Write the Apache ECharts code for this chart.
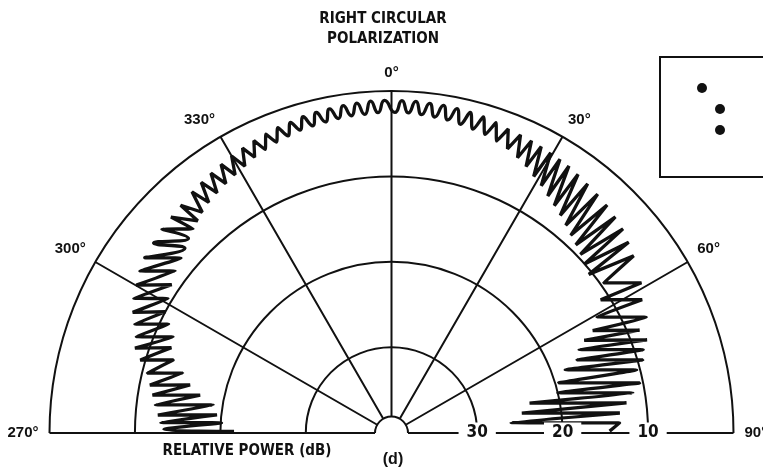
<!DOCTYPE html>
<html><head><meta charset="utf-8">
<script src="https://cdn.jsdelivr.net/npm/echarts@6/dist/echarts.min.js"></script>
<style>html,body{margin:0;padding:0;background:#fff}#c{width:763px;height:469px}</style>
</head><body><div id="c"></div>
<script>
// Angle tick labels (compass degrees) and relative-power ring labels (dB)
const angleTicks = [270, 300, 330, 0, 30, 60, 90];
const powerTicks = [30, 20, 10];
const powerMax = 38.1; // dB at the small centre semicircle

// Measured pattern, left half (270° -> 360°): alternating null / peak
const leftAngles = [270.6,270.9,273.4,272.6,275.9,274.4,278.9,276.8,281.2,279.0,283.4,281.2,286.0,283.8,288.5,286.2,
  291.2,288.3,293.7,290.7,296.0,293.0,298.2,295.0,301.0,297.6,304.0,300.1,306.8,302.8,309.7,305.4,
  311.8,308.6,313.8,311.6,315.8,314.4,317.6,317.2,319.4,320.4,321.6,322.8,324.0,325.2,326.4,327.6,
  328.8,330.0,331.2,332.4,333.6,334.8,336.0,337.2,338.4,339.6,340.8,342.0,343.2,344.4,345.6,346.8,
  348.0,349.2,350.4,351.6,352.8,354.0,355.2,356.4,357.6,358.8];
const leftDb = [21.6,13.4,20.1,13.0,19.5,12.6,18.9,12.2,17.2,11.7,15.8,11.2,14.6,10.6,13.1,9.4,
  12.4,8.4,12.1,8.1,11.0,7.4,10.0,6.6,9.5,6.0,9.0,5.5,8.4,5.0,8.0,4.6,
  7.6,4.4,7.1,4.1,6.7,3.9,6.4,3.7,6.0,3.4,5.6,3.2,5.3,3.0,5.0,2.8,
  4.7,2.6,4.4,2.4,4.0,2.2,3.7,2.1,3.4,1.9,3.2,1.8,3.0,1.6,2.9,1.5,
  2.8,1.4,2.7,1.3,2.6,1.2,2.6,1.1,2.5,1.1];

// Measured pattern, right half (0° -> 90°): alternating null / peak
const rightAngles = [0.6,1.8,3.0,4.2,5.4,6.6,7.8,9.0,10.2,11.4,12.6,13.8,15.0,16.2,17.4,18.6,19.8,21.0,
  22.2,23.4,24.6,25.6,26.8,27.6,29.0,29.6,31.2,31.6,33.4,33.6,35.6,35.8,37.8,38.2,40.0,40.8,
  42.2,43.4,44.4,46.0,46.6,48.6,48.8,51.2,51.2,53.8,
  54.7,59.0,57.5,62.0,60.5,65.6,63.0,67.5,64.3,70.0,66.0,71.7,68.5,73.8,70.0,75.6,
  73.3,78.6,76.4,80.6,77.8,82.7,81.3,85.0,85.0,87.5,89.5];
const rightDb = [2.5,1.1,2.5,1.1,2.6,1.2,2.7,1.2,2.8,1.3,3.0,1.4,3.2,1.5,3.4,1.7,3.7,1.9,
  4.1,2.0,4.6,2.1,5.1,2.2,5.7,2.3,6.2,2.4,6.8,2.5,7.3,2.7,7.8,2.9,8.3,3.1,
  8.8,3.3,9.2,3.6,9.6,3.9,10.0,4.4,10.4,4.9,
  9.6,5.9,11.0,6.8,12.4,7.3,13.6,8.6,15.0,8.2,16.0,9.0,16.7,9.4,18.4,10.4,
  19.6,10.4,20.0,11.4,23.5,12.3,24.6,13.2,26.0,13.3,14.5];

const FONT = "'Liberation Sans Narrow','DejaVu Sans Condensed',sans-serif";
const FONT2 = "'Liberation Sans','DejaVu Sans',sans-serif";
const toAxis = a => (a > 180 ? a - 360 : a);

const pattern = [];
leftAngles.forEach((a, i) => pattern.push([leftDb[i], toAxis(a)]));
rightAngles.forEach((a, i) => pattern.push([rightDb[i], toAxis(a)]));

const chart = echarts.init(document.getElementById('c'), null, {renderer: 'canvas'});
chart.setOption({
  backgroundColor: '#fff',
  animation: false,
  polar: {center: [391.5, 433], radius: [16.5, 342]},
  angleAxis: {
    type: 'value', min: -90, max: 90, interval: 30,
    startAngle: 180, endAngle: 0, clockwise: true,
    axisLine: {show: false},
    axisTick: {show: false},
    splitLine: {lineStyle: {color: '#111', width: 2}},
    axisLabel: {
      margin: 11, color: '#111', fontFamily: FONT2, fontWeight: 'bold', fontSize: 15,
      formatter: v => { const t = (v < 0 ? v + 360 : v); return angleTicks.indexOf(t) >= 0 ? t + '°' : ''; }
    }
  },
  radiusAxis: {
    type: 'value', min: 0, max: powerMax, interval: 10, inverse: true,
    axisLine: {show: false}, axisTick: {show: false}, axisLabel: {show: false},
    splitLine: {lineStyle: {color: '#111', width: 2}}
  },
  series: [
    {
      type: 'line', coordinateSystem: 'polar', data: pattern,
      showSymbol: false, smooth: 0.6, z: 3,
      lineStyle: {color: '#111', width: 3.3}
    },
    {
      type: 'line', coordinateSystem: 'polar', showSymbol: false, z: 2,
      data: [[powerMax, -90], [powerMax, 90]],
      lineStyle: {color: '#111', width: 2}
    },
    {
      type: 'scatter', coordinateSystem: 'polar', symbolSize: 0, z: 5,
      itemStyle: {opacity: 1},
      data: powerTicks.map(v => [v, 90]),
      label: {
        show: true, position: 'inside', formatter: p => String(p.value[0]),
        color: '#111', fontFamily: FONT, fontWeight: 'bold', fontSize: 17,
        textBorderWidth: 0, textBorderColor: 'transparent', opacity: 1,
        backgroundColor: '#fff', padding: [2, 8]
      }
    }
  ],
  graphic: [
    {type: 'text', x: 383, y: 19, style: {text: 'RIGHT CIRCULAR', textAlign: 'center', textVerticalAlign: 'middle', fill: '#111', font: 'bold 15px ' + FONT}},
    {type: 'text', x: 383, y: 39, style: {text: 'POLARIZATION', textAlign: 'center', textVerticalAlign: 'middle', fill: '#111', font: 'bold 15px ' + FONT}},
    {type: 'text', x: 247, y: 451, style: {text: 'RELATIVE POWER (dB)', textAlign: 'center', textVerticalAlign: 'middle', fill: '#111', font: 'bold 15px ' + FONT}},
    {type: 'text', x: 393, y: 460, style: {text: '(d)', textAlign: 'center', textVerticalAlign: 'middle', fill: '#111', font: 'bold 16px ' + FONT2}},
    {type: 'rect', shape: {x: 660, y: 57, width: 130, height: 120}, style: {fill: 'none', stroke: '#111', lineWidth: 2}},
    {type: 'circle', shape: {cx: 702, cy: 88, r: 5}, style: {fill: '#111'}},
    {type: 'circle', shape: {cx: 720, cy: 109, r: 5}, style: {fill: '#111'}},
    {type: 'circle', shape: {cx: 720, cy: 130, r: 5}, style: {fill: '#111'}}
  ]
});
</script>
</body></html>
